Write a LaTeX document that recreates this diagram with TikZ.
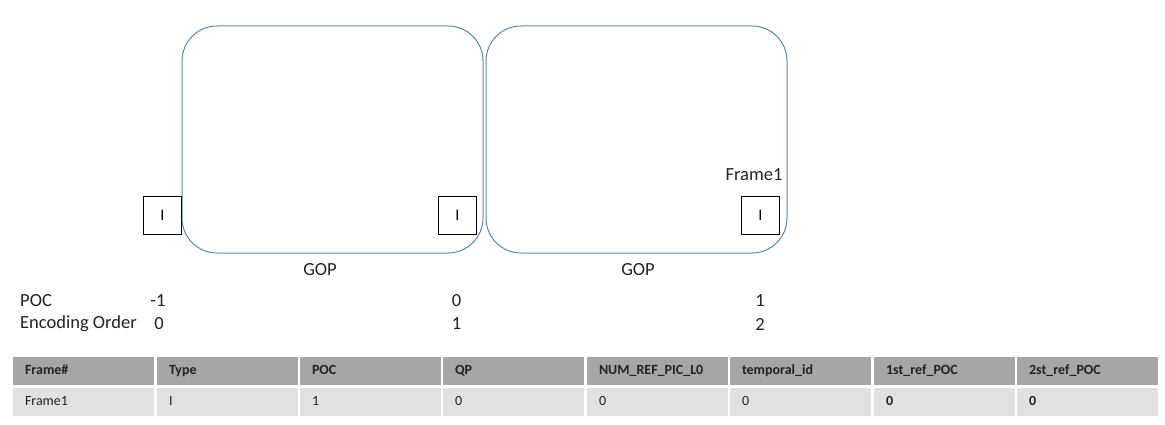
\documentclass[tikz,border=0pt]{standalone}
\usepackage{fontspec}
\setmainfont{Carlito}
\usetikzlibrary{positioning}
\definecolor{gopblue}{HTML}{5B87B5}
\definecolor{headgray}{HTML}{A6A6A6}
\definecolor{rowgray}{HTML}{E1E1E1}
\definecolor{ink}{HTML}{222222}
\tikzset{gop/.style={draw=gopblue,line width=1pt,rounded corners=35pt,minimum width=301pt,minimum height=227pt,inner sep=0pt}, picbox/.style={draw=black,line width=1pt,minimum size=38pt,inner sep=0pt,font=\fontsize{16}{18}\selectfont}, lbl/.style={font=\fontsize{18.5}{20}\selectfont,inner sep=0pt,text=ink}, head/.style={fill=headgray,minimum width=141pt,minimum height=28pt,text width=117pt,text height=10pt,text depth=3pt,align=left,inner sep=0pt,text=ink,font=\fontsize{14}{16}\selectfont\bfseries}, cell/.style={head,fill=rowgray,font=\fontsize{14}{16}\selectfont}}

\begin{document}
\begin{tikzpicture}[x=1pt,y=-1pt]
\useasboundingbox (0,0) rectangle (1165,425);
% two GOPs
\node[gop] (gopa) at (332.5,139.5) {};
\node[gop] (gopb) at (636.5,139.5) {};
\node[lbl] (gopla) at (320,270) {GOP};
\node[lbl] (goplb) at (638,270) {GOP};
% frames
\node[picbox] (ia) at (162.5,215.5) {I};
\node[picbox] (ib) at (457.5,215.5) {I};
\node[picbox] (ic) at (760.5,215.5) {I};
\node[lbl] (fname) at (754,175) {Frame1};
% POC / encoding order
\node[lbl,anchor=west] (poc) at (20,301) {POC};
\node[lbl,anchor=west] (enc) at (20,324) {Encoding Order};
\node[lbl] (poca) at (158,301) {-1};
\node[lbl] (pocb) at (456.5,301) {0};
\node[lbl] (pocc) at (760,301) {1};
\node[lbl] (enca) at (159,324) {0};
\node[lbl] (encb) at (456.5,324) {1};
\node[lbl] (encc) at (760,324) {2};
% table
\node[head] (h1) at (83.5,370.5) {Frame\#};
\node[head] (h2) at (227.5,370.5) {Type};
\node[head] (h3) at (370.5,370.5) {POC};
\node[head] (h4) at (513.5,370.5) {QP};
\node[head] (h5) at (657.5,370.5) {NUM\_REF\_PIC\_L0};
\node[head] (h6) at (800.5,370.5) {temporal\_id};
\node[head] (h7) at (944.5,370.5) {1st\_ref\_POC};
\node[head] (h8) at (1087.5,370.5) {2st\_ref\_POC};
\node[cell] (c1) at (83.5,401.5) {Frame1};
\node[cell] (c2) at (227.5,401.5) {I};
\node[cell] (c3) at (370.5,401.5) {1};
\node[cell] (c4) at (513.5,401.5) {0};
\node[cell] (c5) at (657.5,401.5) {0};
\node[cell] (c6) at (800.5,401.5) {0};
\node[cell,font=\fontsize{14}{16}\selectfont\bfseries] (c7) at (944.5,401.5) {0};
\node[cell,font=\fontsize{14}{16}\selectfont\bfseries] (c8) at (1087.5,401.5) {0};
\end{tikzpicture}
\end{document}
